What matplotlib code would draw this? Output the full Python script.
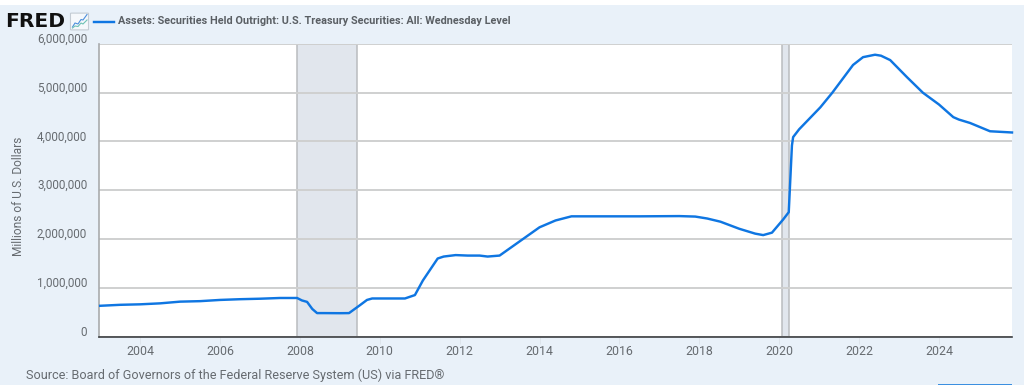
import matplotlib
matplotlib.use("Agg")
import matplotlib.pyplot as plt
from matplotlib.patches import FancyBboxPatch, Rectangle
from matplotlib.transforms import ScaledTranslation

plt.rcParams["font.family"] = ["Roboto", "DejaVu Sans"]

W, H = 1024, 385

years = [
    2003.0, 2003.25, 2003.5, 2004.0, 2004.5, 2005.0, 2005.5, 2006.0, 2006.5, 2007.0,
    2007.5, 2007.93, 2008.05, 2008.18, 2008.31, 2008.43, 2008.6, 2009.0, 2009.23, 2009.5,
    2009.68, 2009.81, 2010.2, 2010.63, 2010.88, 2011.08, 2011.45, 2011.6, 2011.9, 2012.2,
    2012.5, 2012.7, 2013.0, 2013.5, 2014.0, 2014.4, 2014.8, 2015.5, 2016.5, 2017.5,
    2017.9, 2018.2, 2018.53, 2019.0, 2019.4, 2019.6, 2019.82, 2020.1, 2020.24, 2020.32,
    2020.35, 2020.5, 2021.03, 2021.33, 2021.85, 2022.1, 2022.4, 2022.55, 2022.78, 2023.2,
    2023.6, 2024.0, 2024.36, 2024.5, 2024.78, 2025.28, 2025.5, 2025.83,
]
treasuries = [
    630000, 640000, 650000, 660000, 680000, 715000, 725000, 750000, 765000, 775000,
    790000, 790000, 740000, 710000, 565000, 480000, 480000, 478000, 480000, 640000,
    750000, 780000, 780000, 780000, 850000, 1150000, 1600000, 1640000, 1670000, 1660000,
    1660000, 1640000, 1660000, 1950000, 2240000, 2380000, 2465000, 2465000, 2465000, 2470000,
    2460000, 2420000, 2355000, 2210000, 2110000, 2080000, 2130000, 2400000, 2550000, 3920000,
    4090000, 4250000, 4700000, 5000000, 5570000, 5730000, 5780000, 5760000, 5670000, 5320000,
    5000000, 4760000, 4500000, 4450000, 4380000, 4210000, 4200000, 4185000,
]
recessions = [(2007.92, 2009.42), (2020.08, 2020.25)]
y_ticks = [0, 1000000, 2000000, 3000000, 4000000, 5000000, 6000000]
x_ticks = list(range(2004, 2025, 2))
series_name = "Assets: Securities Held Outright: U.S. Treasury Securities: All: Wednesday Level"
source = "Source: Board of Governors of the Federal Reserve System (US) via FRED®"

BG = "#e9f1f9"
LINE = "#0f76e2"
GRID = "#cfd0d0"
TXT = "#666b70"

fig = plt.figure(figsize=(W / 100, H / 100), dpi=100, facecolor=BG)

# white strip above the chart frame
fig.add_artist(Rectangle((0, 1 - 5 / H), 1, 5 / H, transform=fig.transFigure, color="white", lw=0))
# bit of a button cut off at the bottom right
fig.add_artist(Rectangle((938 / W, 0), 74 / W, 1.5 / H, transform=fig.transFigure, color="#3b8fe0", lw=0))

ax = fig.add_axes([99 / W, 1 - 336.5 / H, (1012 - 99) / W, (336.5 - 44) / H])
ax.set_facecolor("white")
ax.set_xlim(2002.97, 2025.83)
ax.set_ylim(0, 6000000)

for start, end in recessions:
    ax.axvspan(start, end, facecolor="#e1e6ed", edgecolor="#b9bcbf", lw=1.1, zorder=1)

ax.set_yticks(y_ticks)
ax.set_yticklabels(["0"] + [f"{v:,}" for v in y_ticks[1:]])
ax.set_xticks(x_ticks)
ax.grid(axis="y", color=GRID, lw=1.4, zorder=2)
ax.plot(years, treasuries, color=LINE, lw=1.75, solid_joinstyle="round", zorder=3, clip_on=False)

ax.tick_params(axis="y", length=0, pad=8.5, labelsize=8.4, labelcolor=TXT)
ax.tick_params(axis="x", length=5, width=0.6, color="#dde3ea", pad=1, labelsize=8.9, labelcolor=TXT)
# FRED sets its y labels just above the grid lines
for lbl in ax.get_yticklabels():
    lbl.set_verticalalignment("bottom")
    lbl.set_transform(lbl.get_transform() + ScaledTranslation(0, -2 / 100, fig.dpi_scale_trans))
ax.set_ylabel("Millions of U.S. Dollars", fontsize=8.6, color=TXT)
ax.yaxis.set_label_coords((25 - 99) / (1012 - 99), 0.48)

for side in ["top", "right"]:
    ax.spines[side].set_visible(False)
ax.spines["left"].set_color("#a9abad")
ax.spines["left"].set_linewidth(1.2)
ax.spines["bottom"].set_color("#3d3f42")
ax.spines["bottom"].set_linewidth(1.2)
ax.spines["bottom"].set_zorder(5)

# header: logo, graph icon, legend entry
fig.text(5 / W, 1 - 21.5 / H, "FRED", fontsize=14.6, fontweight="bold", family="DejaVu Sans", color="#111111", va="center", ha="left")
fig.add_artist(FancyBboxPatch((71.5 / W, 1 - 29.5 / H), 16 / W, 16 / H, boxstyle="round,pad=0.001",
                              transform=fig.transFigure, fc="#f5f8fb", ec="#c4ccd4", lw=0.8))
icon_x = [72.5, 75, 78, 81, 83, 87]
icon_a = [27, 23, 24, 19.5, 20, 14.5]
icon_b = [28, 26, 26.5, 23, 24, 20]
fig.add_artist(plt.Line2D([v / W for v in icon_x], [1 - v / H for v in icon_a], color="#4d8fdc", lw=0.8))
fig.add_artist(plt.Line2D([v / W for v in icon_x], [1 - v / H for v in icon_b], color="#6fc2b5", lw=0.8))

fig.add_artist(plt.Line2D([94 / W, 113.5 / W], [1 - 22 / H, 1 - 22 / H], color=LINE, lw=1.75))
fig.text(118 / W, 1 - 21 / H, series_name, fontsize=7.85, fontweight="bold", color="#5a5f64", va="center", ha="left")

fig.text(26 / W, 1 - 375.5 / H, source, fontsize=9.05, color=TXT, va="center", ha="left")

fig.savefig("out.png", dpi=100, facecolor=fig.get_facecolor())
